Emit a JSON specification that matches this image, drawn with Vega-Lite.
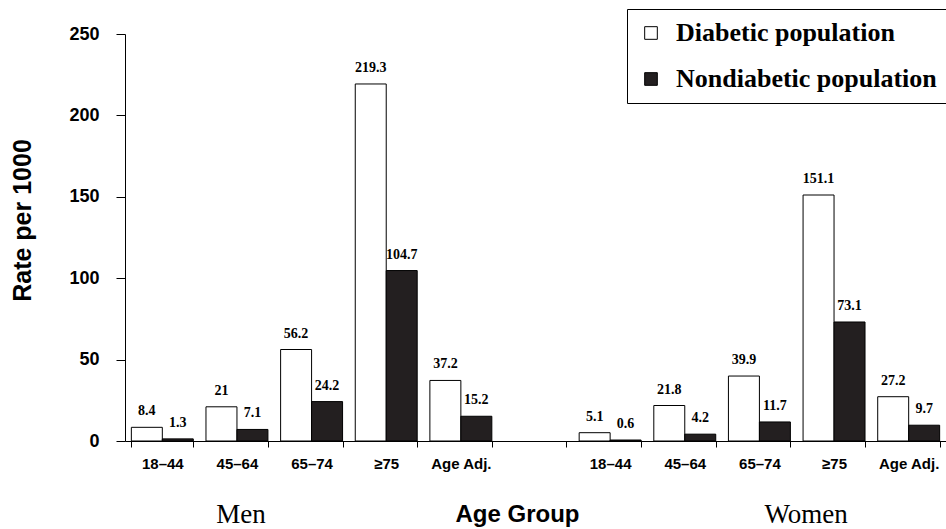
{
  "$schema": "https://vega.github.io/schema/vega-lite/v6.json",
  "width": 821,
  "height": 407,
  "autosize": {"type": "none", "contains": "content"},
  "padding": {"left": 125, "top": 34, "right": 0, "bottom": 88},
  "background": "white",
  "config": {
    "view": {"stroke": null},
    "axis": {
      "domainColor": "black",
      "tickColor": "black",
      "labelColor": "black",
      "titleColor": "black",
      "labelFont": "Liberation Sans",
      "labelFontWeight": "bold",
      "titleFont": "Liberation Sans",
      "titleFontWeight": "bold",
      "grid": false
    }
  },
  "datasets": {
    "rates": [
      {"slot": "M|18–44", "population": "Diabetic population", "rate": 8.4},
      {"slot": "M|18–44", "population": "Nondiabetic population", "rate": 1.3},
      {"slot": "M|45–64", "population": "Diabetic population", "rate": 21},
      {"slot": "M|45–64", "population": "Nondiabetic population", "rate": 7.1},
      {"slot": "M|65–74", "population": "Diabetic population", "rate": 56.2},
      {"slot": "M|65–74", "population": "Nondiabetic population", "rate": 24.2},
      {"slot": "M|≥75", "population": "Diabetic population", "rate": 219.3},
      {"slot": "M|≥75", "population": "Nondiabetic population", "rate": 104.7},
      {"slot": "M|Age Adj.", "population": "Diabetic population", "rate": 37.2},
      {"slot": "M|Age Adj.", "population": "Nondiabetic population", "rate": 15.2},
      {"slot": "W|18–44", "population": "Diabetic population", "rate": 5.1},
      {"slot": "W|18–44", "population": "Nondiabetic population", "rate": 0.6},
      {"slot": "W|45–64", "population": "Diabetic population", "rate": 21.8},
      {"slot": "W|45–64", "population": "Nondiabetic population", "rate": 4.2},
      {"slot": "W|65–74", "population": "Diabetic population", "rate": 39.9},
      {"slot": "W|65–74", "population": "Nondiabetic population", "rate": 11.7},
      {"slot": "W|≥75", "population": "Diabetic population", "rate": 151.1},
      {"slot": "W|≥75", "population": "Nondiabetic population", "rate": 73.1},
      {"slot": "W|Age Adj.", "population": "Diabetic population", "rate": 27.2},
      {"slot": "W|Age Adj.", "population": "Nondiabetic population", "rate": 9.7}
    ],
    "men": [{"slot": "M|45–64", "group": "Men"}],
    "women": [{"slot": "W|≥75", "group": "Women"}]
  },
  "encoding": {
    "x": {
      "field": "slot",
      "type": "nominal",
      "sort": null,
      "scale": {
        "domain": ["M|18–44", "M|45–64", "M|65–74", "M|≥75", "M|Age Adj.", "gap|", "W|18–44", "W|45–64", "W|65–74", "W|≥75", "W|Age Adj."],
        "paddingInner": 0.17,
        "paddingOuter": 0.085
      },
      "axis": {
        "title": "Age Group",
        "titleFontSize": 24,
        "titlePadding": 31,
        "titleX": 392,
        "labelExpr": "split(datum.label, '|')[1]",
        "labelAngle": 0,
        "labelFontSize": 15,
        "labelPadding": 9,
        "tickSize": 6,
        "tickBand": "extent"
      }
    }
  },
  "layer": [
    {
      "data": {"name": "rates"},
      "mark": {"type": "bar", "stroke": "black", "strokeWidth": 1},
      "encoding": {
        "xOffset": {
          "field": "population",
          "type": "nominal",
          "scale": {"domain": ["Diabetic population", "Nondiabetic population"], "paddingInner": 0, "paddingOuter": 0}
        },
        "y": {
          "field": "rate",
          "type": "quantitative",
          "scale": {"domain": [0, 250], "nice": false},
          "axis": {
            "title": "Rate per 1000",
            "titleFontSize": 25,
            "titlePadding": 33,
            "titleY": 186,
            "values": [0, 50, 100, 150, 200, 250],
            "labelFontSize": 18,
            "labelPadding": 17,
            "tickSize": 9
          }
        },
        "color": {
          "field": "population",
          "type": "nominal",
          "scale": {"domain": ["Diabetic population", "Nondiabetic population"], "range": ["white", "#231f20"]},
          "legend": {
            "orient": "none",
            "legendX": 502,
            "legendY": -25,
            "title": null,
            "symbolType": "square",
            "symbolSize": 160,
            "symbolStrokeColor": "black",
            "symbolStrokeWidth": 1,
            "labelFont": "Liberation Serif",
            "labelFontSize": 26,
            "labelFontWeight": "bold",
            "labelColor": "black",
            "labelOffset": 12,
            "labelLimit": 400,
            "rowPadding": 20,
            "padding": 11,
            "strokeColor": "black",
            "fillColor": "white"
          }
        }
      }
    },
    {
      "data": {"name": "rates"},
      "mark": {"type": "text", "font": "Liberation Serif", "fontWeight": "bold", "fontSize": 14, "baseline": "bottom", "dy": -9, "color": "black"},
      "encoding": {
        "xOffset": {"field": "population", "type": "nominal"},
        "y": {"field": "rate", "type": "quantitative", "scale": {"domain": [0, 250], "nice": false}},
        "text": {"field": "rate", "type": "quantitative", "format": ".1~f"}
      }
    },
    {
      "data": {"name": "men"},
      "mark": {"type": "text", "font": "Liberation Serif", "fontSize": 27, "baseline": "alphabetic", "dy": 82, "dx": 4, "color": "black"},
      "encoding": {
        "y": {"datum": 0, "type": "quantitative"},
        "text": {"field": "group"}
      }
    },
    {
      "data": {"name": "women"},
      "mark": {"type": "text", "font": "Liberation Serif", "fontSize": 27, "baseline": "alphabetic", "dy": 82, "dx": -28, "color": "black"},
      "encoding": {
        "y": {"datum": 0, "type": "quantitative"},
        "text": {"field": "group"}
      }
    }
  ]
}
